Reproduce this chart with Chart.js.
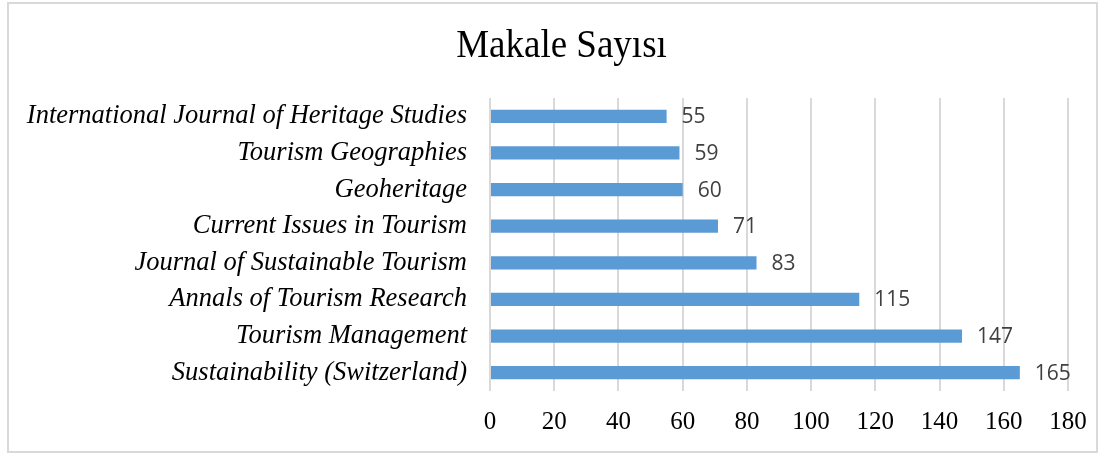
<!DOCTYPE html>
<html>
<head>
<meta charset="utf-8">
<script src="https://cdn.jsdelivr.net/npm/chart.js@4/dist/chart.umd.min.js"></script>
<style>
  html, body { margin: 0; padding: 0; background: #ffffff; }
  #wrap { position: relative; width: 1105px; height: 456px; }
</style>
</head>
<body>
<div id="wrap"><canvas id="c" width="1105" height="456"></canvas></div>
<script>
const titleText = "Makale Sayısı";
const categories = [
  "International Journal of Heritage Studies",
  "Tourism Geographies",
  "Geoheritage",
  "Current Issues in Tourism",
  "Journal of Sustainable Tourism",
  "Annals of Tourism Research",
  "Tourism Management",
  "Sustainability (Switzerland)"
];
const articleCounts = [55, 59, 60, 71, 83, 115, 147, 165];
const xTickMin = 0;
const xTickMax = 180;
const xTickStep = 20;

const frameAndTitle = {
  id: 'frameAndTitle',
  beforeDraw(chart) {
    const ctx = chart.ctx;
    ctx.save();
    ctx.fillStyle = '#ffffff';
    ctx.fillRect(0, 0, chart.width, chart.height);
    ctx.strokeStyle = '#d9d9d9';
    ctx.lineWidth = 2;
    ctx.strokeRect(8, 3, 1089, 449);
    ctx.restore();
  },
  afterDraw(chart) {
    const ctx = chart.ctx;
    ctx.save();
    ctx.font = '37px "Liberation Serif", "Times New Roman", serif';
    ctx.fillStyle = '#000000';
    ctx.textAlign = 'center';
    ctx.textBaseline = 'alphabetic';
    ctx.translate(561.5, 57);
    ctx.scale(1, 1.08);
    ctx.fillText(titleText, 0, 0);
    ctx.restore();
  }
};

const valueLabels = {
  id: 'valueLabels',
  afterDatasetsDraw(chart) {
    const ctx = chart.ctx;
    const meta = chart.getDatasetMeta(0);
    const data = chart.data.datasets[0].data;
    ctx.save();
    ctx.font = '21px "Open Sans", sans-serif';
    ctx.fillStyle = '#404040';
    ctx.textAlign = 'left';
    ctx.textBaseline = 'middle';
    meta.data.forEach((bar, i) => {
      ctx.fillText(String(data[i]), bar.x + 15, bar.y + 1);
    });
    ctx.restore();
  }
};

new Chart(document.getElementById('c'), {
  type: 'bar',
  data: {
    labels: categories,
    datasets: [{
      label: titleText,
      data: articleCounts,
      backgroundColor: '#5b9bd5',
      borderWidth: 0,
      categoryPercentage: 0.7,
      barPercentage: 0.52
    }]
  },
  options: {
    indexAxis: 'y',
    responsive: false,
    animation: false,
    devicePixelRatio: 1,
    layout: { padding: { top: 98, right: 37, bottom: 0, left: 0 } },
    plugins: {
      legend: { display: false },
      title: { display: false },
      tooltip: { enabled: false }
    },
    scales: {
      x: {
        min: xTickMin,
        max: xTickMax,
        ticks: {
          stepSize: xTickStep,
          color: '#000000',
          padding: 16,
          font: { family: '"Liberation Serif", "Times New Roman", serif', size: 25 }
        },
        grid: { color: '#d9d9d9', lineWidth: 2, drawTicks: false },
        border: { display: false },
        afterFit(scale) { scale.height = 65; }
      },
      y: {
        ticks: {
          color: '#000000',
          padding: 23,
          font: { family: '"Liberation Serif", "Times New Roman", serif', size: 26.5, style: 'italic' }
        },
        grid: { display: false, drawTicks: false },
        border: { display: false },
        afterFit(scale) { scale.width = 490; }
      }
    }
  },
  plugins: [frameAndTitle, valueLabels]
});
</script>
</body>
</html>
